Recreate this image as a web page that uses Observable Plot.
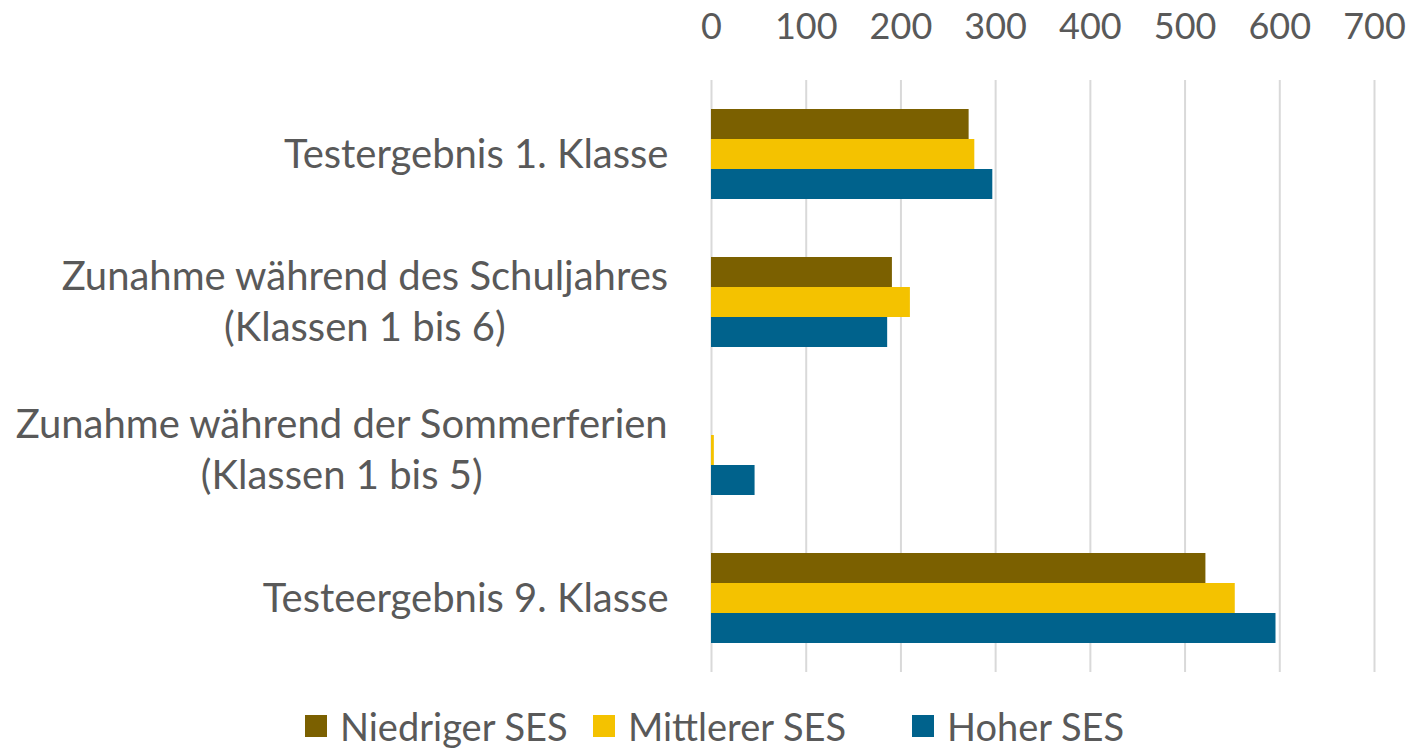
<!DOCTYPE html>
<html>
<head>
<meta charset="utf-8">
<script src="https://cdn.jsdelivr.net/npm/d3@7"></script>
<script src="https://cdn.jsdelivr.net/npm/@observablehq/plot@0.6"></script>
<style>
  body { margin: 0; background: #fff; }
  #legend { display: flex; align-items: center; height: 64px; box-sizing: border-box;
            padding-top: 16px; padding-bottom: 8px; padding-left: 305px;
            font-family: Lato, "Open Sans", sans-serif; font-size: 38px; line-height: 1; color: #595959; }
  .item { display: flex; align-items: center; }
  .item:nth-child(1) { width: 288px; }
  .item:nth-child(2) { width: 319px; }
  .sw { width: 22px; height: 22px; margin-right: 13px; flex: none; }
</style>
</head>
<body>
<div id="chart"></div>
<div id="legend"></div>
<script>
const categories = [
  "Testergebnis 1. Klasse",
  "Zunahme während des Schuljahres\n(Klassen 1 bis 6)",
  "Zunahme während der Sommerferien\n(Klassen 1 bis 5)",
  "Testeergebnis 9. Klasse"
];
const series = ["Niedriger SES", "Mittlerer SES", "Hoher SES"];
const niedrigerSES = [272, 191, 0, 522];
const mittlererSES = [278, 210, 3, 553];
const hoherSES = [297, 186, 46, 596];
const colors = ["#7B6000", "#F4C200", "#00628C"];
const xTicks = [0, 100, 200, 300, 400, 500, 600, 700];

const FONT = 'Lato, "Open Sans", sans-serif';
const FS = 40;      // category labels
const TICK_FS = 36; // axis tick labels

const values = [niedrigerSES, mittlererSES, hoherSES];
const data = [];
categories.forEach((c, i) => series.forEach((s, j) => data.push({category: c, series: s, value: values[j][i]})));

// measure first-line widths to center multi-line labels like the original
const ctx = document.createElement("canvas").getContext("2d");
ctx.font = `${FS}px ${FONT}`;
const pad = 43;
const labelMarks = categories.map(c => {
  const w = ctx.measureText(c.split("\n")[0]).width;
  return Plot.text([c], {
    fy: d => d, text: d => d, frameAnchor: "left", textAnchor: "middle",
    dx: -(pad + w / 2), dy: -3, lineHeight: 1.275, fill: "#595959", fontSize: FS
  });
});

const chart = Plot.plot({
  width: 1411, height: 690,
  marginLeft: 711, marginRight: 37, marginTop: 80, marginBottom: 18,
  style: {fontFamily: FONT, fontSize: TICK_FS + "px", color: "#595959", background: "#fff"},
  x: {domain: [0, 700]},
  fy: {domain: categories, padding: 0, axis: null},
  y: {domain: series, paddingInner: 0, paddingOuter: 0.926, axis: null},
  color: {domain: series, range: colors},
  marks: [
    Plot.ruleX(xTicks, {stroke: "#d9d9d9", strokeWidth: 2}),
    Plot.barX(data, {x: "value", y: "series", fy: "category", fill: "series"}),
    Plot.axisX({anchor: "top", ticks: xTicks, tickSize: 0, tickPadding: 42, label: null, fontSize: TICK_FS, fill: "#595959"}),
    ...labelMarks
  ]
});
document.getElementById("chart").appendChild(chart);

const legend = document.getElementById("legend");
series.forEach((s, i) => {
  const it = document.createElement("div");
  it.className = "item";
  it.innerHTML = `<div class="sw" style="background:${colors[i]}"></div><span>${s}</span>`;
  legend.appendChild(it);
});
</script>
</body>
</html>
